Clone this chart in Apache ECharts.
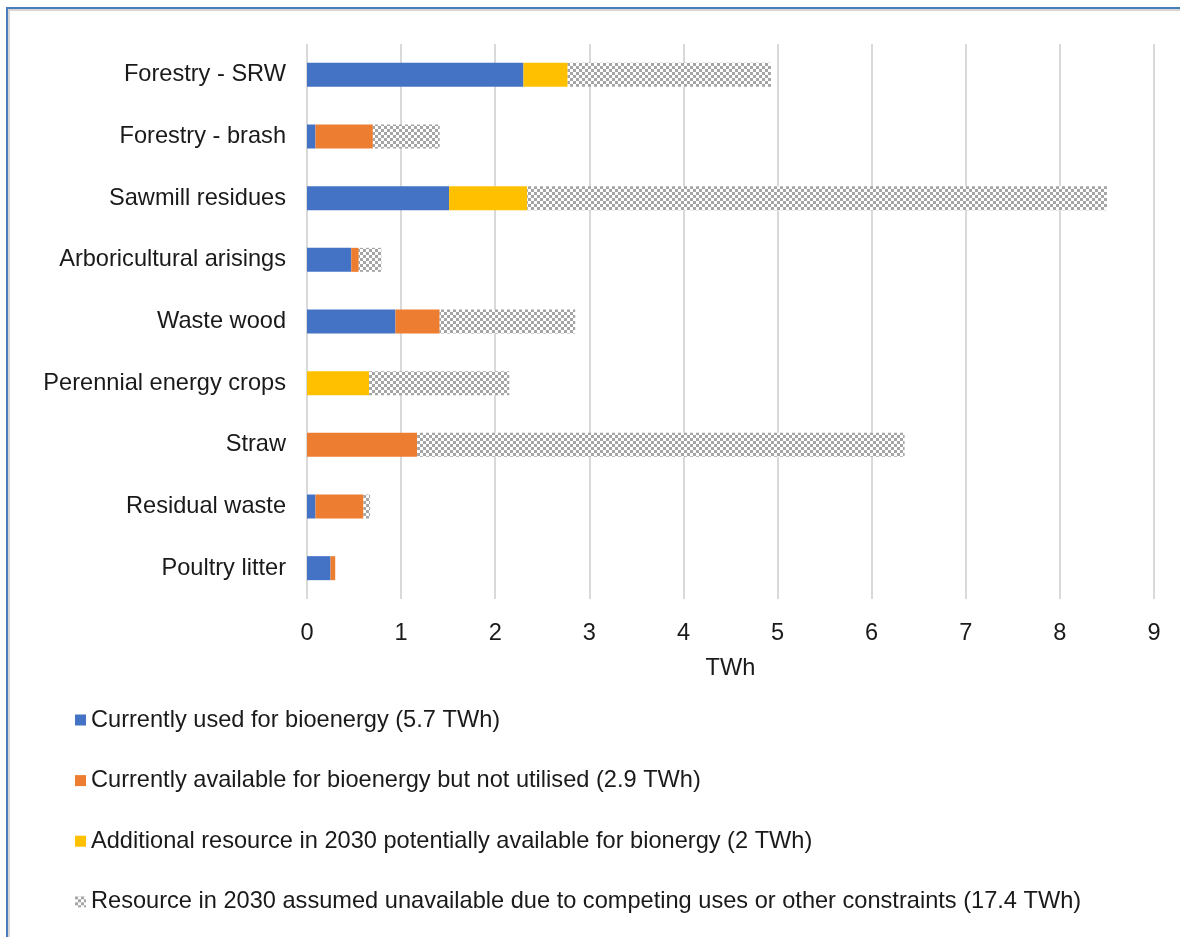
<!DOCTYPE html>
<html>
<head>
<meta charset="utf-8">
<script src="https://cdn.jsdelivr.net/npm/echarts@6/dist/echarts.min.js"></script>
<style>
    html, body { margin: 0; padding: 0; background: #fff; }
    #wrap { position: relative; width: 1180px; height: 937px; }
    #chart { width: 1180px; height: 937px; }
    .edge-top { position: absolute; left: 6px; top: 7px; width: 1174px; height: 2px; background: #4a7ebb; }
    .edge-left { position: absolute; left: 6px; top: 7px; width: 2px; height: 930px; background: #4a7ebb; }
    .shade-top { position: absolute; left: 8px; top: 9px; width: 1172px; height: 2px; background: #d6d6d6; }
    .shade-left { position: absolute; left: 8px; top: 9px; width: 2px; height: 928px; background: #d6d6d6; }
</style>
</head>
<body>
<div id="wrap">
    <div id="chart"></div>
    <div class="edge-top"></div>
    <div class="edge-left"></div>
    <div class="shade-top"></div>
    <div class="shade-left"></div>
</div>
<script>
// categories, top to bottom
const categories = ['Forestry - SRW', 'Forestry - brash', 'Sawmill residues', 'Arboricultural arisings',
    'Waste wood', 'Perennial energy crops', 'Straw', 'Residual waste', 'Poultry litter'];

const seriesNames = [
    'Currently used for bioenergy (5.7 TWh)',
    'Currently available for bioenergy but not utilised (2.9 TWh)',
    'Additional resource in 2030 potentially available for bionergy (2 TWh)',
    'Resource in 2030 assumed unavailable due to competing uses or other constraints (17.4 TWh)'
];

// TWh per segment
const usedNow     = [2.30, 0.09, 1.51, 0.47, 0.94, 0,    0,    0.09, 0.25];
const notUtilised = [0,    0.61, 0,    0.08, 0.47, 0,    1.17, 0.51, 0.05];
const extra2030   = [0.47, 0,    0.83, 0,    0,    0.66, 0,    0,    0];
const unavailable = [2.16, 0.71, 6.16, 0.24, 1.44, 1.49, 5.18, 0.07, 0];

const xTicks = [0, 1, 2, 3, 4, 5, 6, 7, 8, 9];

// checker pattern like the excel fill
function makePattern() {
    const c = document.createElement('canvas');
    c.width = 6; c.height = 6;
    const ctx = c.getContext('2d');
    ctx.fillStyle = '#ffffff';
    ctx.fillRect(0, 0, 6, 6);
    ctx.fillStyle = '#a5a5a5';
    ctx.fillRect(0, 0, 3, 3);
    ctx.fillRect(3, 3, 3, 3);
    return c;
}
const pattern = { image: makePattern(), repeat: 'repeat' };

const colors = ['#4472c4', '#ed7d31', '#ffc000', pattern];
const values = [usedNow, notUtilised, extra2030, unavailable];

const chart = echarts.init(document.getElementById('chart'));
const font = "'Liberation Sans', Arial, sans-serif";
const fs = 23.6;

const option = {
    backgroundColor: '#fff',
    animation: false,
    grid: { left: 307, right: 26, top: 44, bottom: 338 },
    legend: {
        orient: 'vertical',
        left: 70,
        top: 703,
        itemGap: 36.6,
        itemWidth: 11,
        itemHeight: 11,
        icon: 'rect',
        textStyle: { fontFamily: font, fontSize: fs, color: '#1a1a1a' },
        data: seriesNames
    },
    xAxis: {
        type: 'value',
        min: 0,
        max: 9,
        interval: 1,
        name: 'TWh',
        nameLocation: 'middle',
        nameGap: 57,
        nameTextStyle: { fontFamily: font, fontSize: fs, color: '#1a1a1a' },
        axisLine: { show: false },
        axisTick: { show: false },
        axisLabel: {
            margin: 22,
            fontFamily: font, fontSize: fs, color: '#1a1a1a',
            formatter: v => xTicks.includes(v) ? String(v) : ''
        },
        splitLine: { show: true, lineStyle: { color: '#d9d9d9', width: 2 } }
    },
    yAxis: {
        type: 'category',
        inverse: true,
        data: categories,
        axisLine: { show: false },
        axisTick: { show: false },
        axisLabel: { margin: 21, fontFamily: font, fontSize: fs, color: '#1a1a1a' }
    },
    series: values.map((v, i) => ({
        name: seriesNames[i],
        type: 'bar',
        stack: 'total',
        barWidth: 24,
        itemStyle: { color: colors[i] },
        data: v
    }))
};
chart.setOption(option);
</script>
</body>
</html>
